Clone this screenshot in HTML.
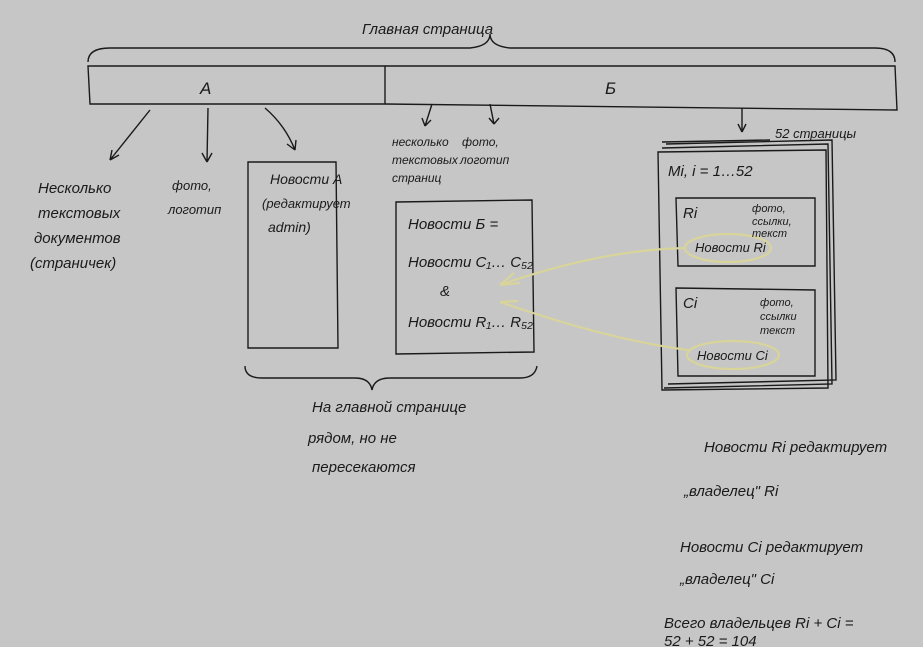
<!DOCTYPE html>
<html><head><meta charset="utf-8"><style>
html,body{margin:0;padding:0;background:#c6c6c6;}
svg{display:block}
text{font-family:"Liberation Sans","DejaVu Sans",sans-serif;font-style:italic;fill:#1a1a1a;}
</style></head><body>
<svg width="923" height="647" viewBox="0 0 923 647" xmlns="http://www.w3.org/2000/svg">
<rect width="923" height="647" fill="#c6c6c6"/>
<g fill="none" stroke="#1a1a1a" stroke-width="1.4">
<path d="M88 62 Q88 48 110 48 L470 48 Q490 46 490 34 Q490 46 510 48 L875 48 Q895 48 895 62"/>
<path d="M88 66 L385 66 L385 104 L90 104 Z"/>
<path d="M385 66 L895 66 L897 110 L385 104"/>
<path d="M150 110 L110 160 M110 160 l2 -10 M110 160 l9 -5"/>
<path d="M208 108 L207 162 M207 162 l-5 -9 M207 162 l5 -9"/>
<path d="M265 108 Q285 125 295 150 M295 150 l-8 -6 M295 150 l1 -10"/>
<path d="M432 104 L425 126 M425 126 l-3 -8 M425 126 l6 -6"/>
<path d="M490 104 L494 124 M494 124 l-5 -6 M494 124 l5 -6"/>
<path d="M742 108 L742 132 M742 132 l-4 -8 M742 132 l4 -8"/>
<path d="M248 162 L336 162 L338 348 L248 348 Z"/>
<path d="M396 202 L532 200 L534 352 L396 354 Z"/>
<path d="M245 366 Q245 378 262 378 L355 378 Q370 378 372 390 Q374 378 390 378 L520 378 Q535 378 537 366"/>
<path d="M666 144 L832 140 L836 380 L668 384"/>
<path d="M662 148 L828 144 L832 384 L664 388"/>
<path d="M658 152 L826 150 L828 388 L662 390 Z"/>
<path d="M662 142 L770 140"/>
<path d="M676 198 L815 198 L815 266 L678 266 Z"/>
<path d="M676 288 L815 290 L815 376 L678 376 Z"/>
</g>
<g fill="none" stroke="#d8d49a" stroke-width="2.2">
<ellipse cx="728" cy="248" rx="43" ry="14"/>
<ellipse cx="733" cy="355" rx="46" ry="14"/>
<path d="M685 248 Q600 250 500 285 M500 285 l20 -2 M500 285 l14 -12"/>
<path d="M688 350 Q610 340 500 302 M500 302 l18 -1"/>
</g>
<g font-size="15">
<text x="362" y="34">Главная страница</text>
<text x="200" y="94" font-size="17" font-style="normal">А</text>
<text x="605" y="94" font-size="17" font-style="normal">Б</text>
<text x="38" y="193">Несколько</text>
<text x="38" y="218">текстовых</text>
<text x="34" y="243">документов</text>
<text x="30" y="268">(страничек)</text>
<text x="172" y="190" font-size="13">фото,</text>
<text x="168" y="214" font-size="13">логотип</text>
<text x="270" y="184" font-size="14">Новости А</text>
<text x="262" y="208" font-size="13">(редактирует</text>
<text x="268" y="232" font-size="14">admin)</text>
<text x="392" y="146" font-size="12">несколько</text>
<text x="392" y="164" font-size="12">текстовых</text>
<text x="392" y="182" font-size="12">страниц</text>
<text x="462" y="146" font-size="12">фото,</text>
<text x="460" y="164" font-size="12">логотип</text>
<text x="775" y="138" font-size="13">52 страницы</text>
<text x="408" y="229">Новости Б =</text>
<text x="408" y="267">Новости C₁… C₅₂</text>
<text x="440" y="296">&amp;</text>
<text x="408" y="327">Новости R₁… R₅₂</text>
<text x="668" y="176">Mi, i = 1…52</text>
<text x="683" y="218">Ri</text>
<text x="752" y="212" font-size="11">фото,</text>
<text x="752" y="225" font-size="11">ссылки,</text>
<text x="752" y="237" font-size="11">текст</text>
<text x="695" y="252" font-size="13">Новости Ri</text>
<text x="683" y="308">Ci</text>
<text x="760" y="306" font-size="11">фото,</text>
<text x="760" y="320" font-size="11">ссылки</text>
<text x="760" y="334" font-size="11">текст</text>
<text x="697" y="360" font-size="13">Новости Ci</text>
<text x="312" y="412">На главной странице</text>
<text x="308" y="443">рядом, но не</text>
<text x="312" y="472">пересекаются</text>
<text x="704" y="452">Новости Ri редактирует</text>
<text x="684" y="496">„владелец" Ri</text>
<text x="680" y="552">Новости Ci редактирует</text>
<text x="680" y="584">„владелец" Ci</text>
<text x="664" y="628">Всего владельцев Ri + Ci =</text>
<text x="664" y="646">52 + 52 = 104</text>
</g>
</svg>
</body></html>
